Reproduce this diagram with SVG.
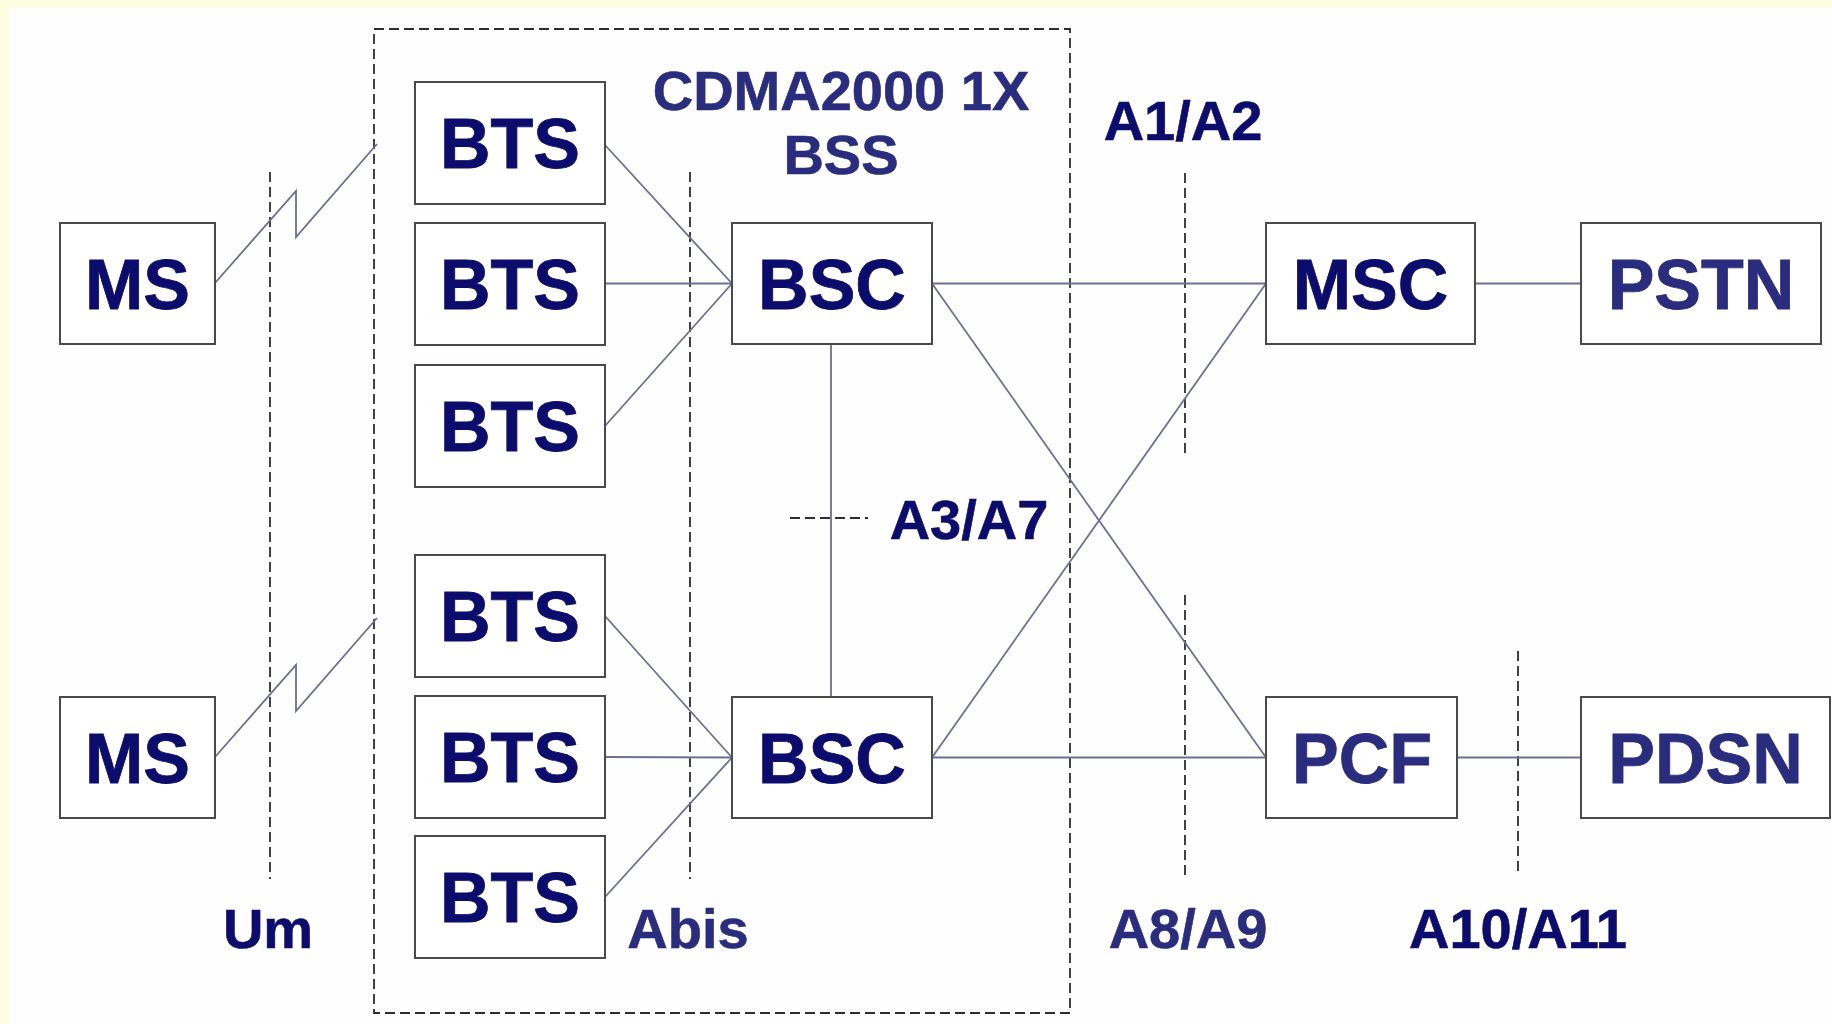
<svg xmlns="http://www.w3.org/2000/svg" width="1832" height="1024" viewBox="0 0 1832 1024">
  <style>
    .box { fill: #ffffff; stroke: #4a4a4a; stroke-width: 2; }
    .lbl { font-family: "Liberation Sans", Arial, sans-serif; font-weight: bold; font-size: 70px; text-anchor: middle; fill: #0c0c6c; stroke: #0c0c6c; stroke-width: 0.8; }
    .lbl.soft { fill: #2a2c7e; stroke: #2a2c7e; }
    .ifc { font-family: "Liberation Sans", Arial, sans-serif; font-weight: bold; font-size: 56px; text-anchor: middle; fill: #0c0c6c; stroke: #0c0c6c; stroke-width: 0.6; }
    .ifc.soft { fill: #2a2c7e; stroke: #2a2c7e; }
    .link { stroke: #6c6e98; stroke-width: 1.8; fill: none; }
    .cut { stroke: #2e2e2e; stroke-width: 1.8; stroke-dasharray: 10 5; fill: none; }
  </style>

  <!-- page background with a pale yellow margin at top and left -->
  <rect x="0" y="0" width="1832" height="1024" fill="#fcfde0"/>
  <rect x="9" y="8" width="1823" height="1016" fill="#fefefe"/>

  <!-- base station subsystem boundary -->
  <rect id="bss-boundary" x="374" y="29" width="696" height="984" class="cut" stroke="#444444"/>
  <text class="ifc soft" x="841" y="110" font-size="56">CDMA2000 1X</text>
  <text class="ifc soft" x="841" y="174" font-size="52">BSS</text>

  <!-- interface reference lines -->
  <g id="interfaces">
    <line class="cut" x1="270" y1="172" x2="270" y2="879"/>
    <line class="cut" x1="690" y1="172" x2="690" y2="879"/>
    <line class="cut" x1="1185" y1="173" x2="1185" y2="457"/>
    <line class="cut" x1="1185" y1="595" x2="1185" y2="879"/>
    <line class="cut" x1="1518" y1="651" x2="1518" y2="874"/>
    <line class="cut" x1="790" y1="518" x2="868" y2="518"/>
    <text class="ifc" x="268" y="948">Um</text>
    <text class="ifc soft" x="688" y="948">Abis</text>
    <text class="ifc" x="1183" y="140">A1/A2</text>
    <text class="ifc" x="969" y="539">A3/A7</text>
    <text class="ifc soft" x="1188" y="948">A8/A9</text>
    <text class="ifc" x="1518" y="948">A10/A11</text>
  </g>

  <!-- connectors -->
  <g id="connectors">
    <!-- radio links (Um) -->
    <polyline class="link" points="215,283 296,191 296,237 377,144"/>
    <polyline class="link" points="215,757 296,665 296,711 377,618"/>
    <!-- Abis -->
    <line class="link" x1="605" y1="145" x2="732" y2="283.5"/>
    <line class="link" x1="605" y1="283.5" x2="732" y2="283.5"/>
    <line class="link" x1="605" y1="426" x2="732" y2="283.5"/>
    <line class="link" x1="605" y1="616" x2="732" y2="757.5"/>
    <line class="link" x1="605" y1="757" x2="732" y2="757.5"/>
    <line class="link" x1="605" y1="897" x2="732" y2="757.5"/>
    <!-- A3/A7 between BSCs -->
    <line class="link" x1="831" y1="344" x2="831" y2="697"/>
    <!-- A1/A2 and A8/A9 -->
    <line class="link" x1="932" y1="283.5" x2="1266" y2="283.5"/>
    <line class="link" x1="932" y1="283.5" x2="1266" y2="757.5"/>
    <line class="link" x1="932" y1="757.5" x2="1266" y2="283.5"/>
    <line class="link" x1="932" y1="757.5" x2="1266" y2="757.5"/>
    <!-- core side -->
    <line class="link" x1="1475" y1="283.5" x2="1581" y2="283.5"/>
    <line class="link" x1="1457" y1="757.5" x2="1581" y2="757.5"/>
  </g>

  <!-- nodes -->
  <g id="ms-1"><rect class="box" x="60" y="223" width="155" height="121"/><text class="lbl" x="137.5" y="308.5">MS</text></g>
  <g id="ms-2"><rect class="box" x="60" y="697" width="155" height="121"/><text class="lbl" x="137.5" y="782.5">MS</text></g>

  <g id="bts-1"><rect class="box" x="415" y="82" width="190" height="122"/><text class="lbl" x="510" y="168">BTS</text></g>
  <g id="bts-2"><rect class="box" x="415" y="223" width="190" height="122"/><text class="lbl" x="510" y="309">BTS</text></g>
  <g id="bts-3"><rect class="box" x="415" y="365" width="190" height="122"/><text class="lbl" x="510" y="451">BTS</text></g>
  <g id="bts-4"><rect class="box" x="415" y="555" width="190" height="122"/><text class="lbl" x="510" y="641">BTS</text></g>
  <g id="bts-5"><rect class="box" x="415" y="696" width="190" height="122"/><text class="lbl" x="510" y="782">BTS</text></g>
  <g id="bts-6"><rect class="box" x="415" y="836" width="190" height="122"/><text class="lbl" x="510" y="922">BTS</text></g>

  <g id="bsc-1"><rect class="box" x="732" y="223" width="200" height="121"/><text class="lbl" x="832" y="308.5">BSC</text></g>
  <g id="bsc-2"><rect class="box" x="732" y="697" width="200" height="121"/><text class="lbl" x="832" y="782.5">BSC</text></g>

  <g id="msc"><rect class="box" x="1266" y="223" width="209" height="121"/><text class="lbl" x="1370.5" y="308.5">MSC</text></g>
  <g id="pstn"><rect class="box" x="1581" y="223" width="240" height="121"/><text class="lbl soft" x="1701" y="308.5">PSTN</text></g>
  <g id="pcf"><rect class="box" x="1266" y="697" width="191" height="121"/><text class="lbl soft" x="1362" y="782.5">PCF</text></g>
  <g id="pdsn"><rect class="box" x="1581" y="697" width="249" height="121"/><text class="lbl soft" x="1705.5" y="782.5">PDSN</text></g>
</svg>
